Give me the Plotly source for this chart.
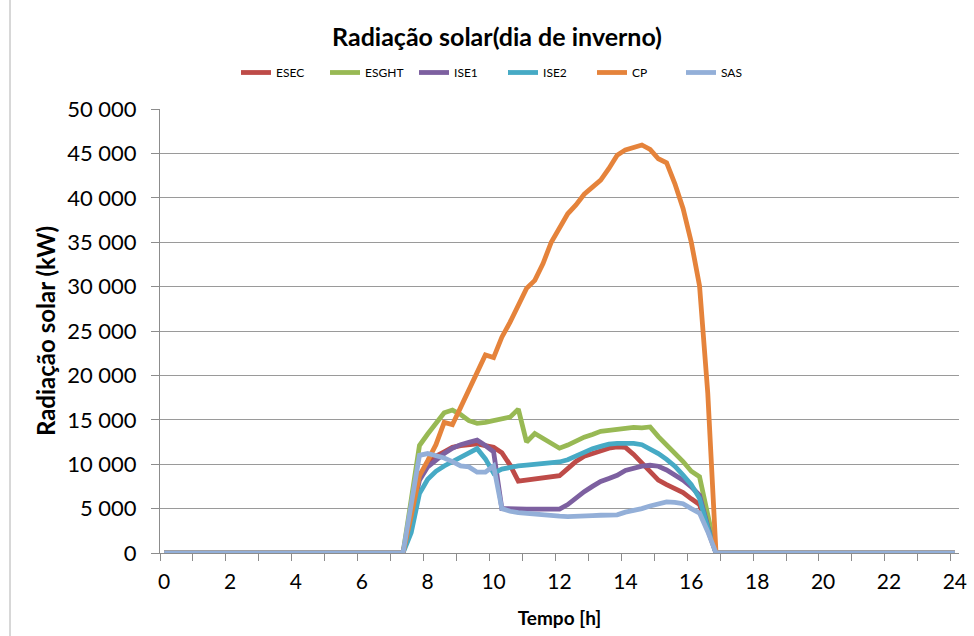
import plotly.graph_objects as go

# Quarter-hour sampling over the daylight window (values are zero outside it)
DAY_HOURS = [7.25, 7.5, 7.75, 8.0, 8.25, 8.5, 8.75, 9.0, 9.25, 9.5,
             9.75, 10.0, 10.25, 10.5, 10.75, 11.0, 11.25, 11.5, 11.75, 12.0,
             12.25, 12.5, 12.75, 13.0, 13.25, 13.5, 13.75, 14.0, 14.25, 14.5,
             14.75, 15.0, 15.25, 15.5, 15.75, 16.0, 16.25, 16.5, 16.75]
NIGHT_START = 0
NIGHT_END = 24

ESEC = [0, 4400, 8800, 9900, 10900, 11400, 11900, 12100, 12200, 12300,
        12100, 11900, 11300, 9900, 8100, 8200, 8300, 8400, 8550, 8700,
        9500, 10300, 10900, 11200, 11500, 11800, 11950, 11900, 11100, 10100,
        9200, 8200, 7700, 7300, 6800, 6100, 5450, 2600, 0]
ESGHT = [0, 6000, 12100, 13400, 14600, 15800, 16100, 15600, 14900, 14600,
         14700, 14900, 15000, 15300, 16200, 12500, 13450, 12900, 12350, 11800,
         12150, 12600, 13050, 13350, 13700, 13800, 13950, 14100, 14150, 14100,
         14200, 13100, 12200, 11300, 10300, 9200, 8600, 4300, 0]
ISE1 = [0, 4000, 8200, 9700, 10500, 11200, 11800, 12200, 12450, 12700,
        12100, 11400, 5000, 4950, 4950, 4950, 4950, 4950, 4950, 4950,
        5450, 6200, 6900, 7500, 8050, 8400, 8750, 9300, 9580, 9770,
        9880, 9770, 9350, 8850, 8200, 7450, 6500, 3000, 0]
ISE2 = [0, 2300, 6700, 8300, 9200, 9800, 10300, 10800, 11200, 11750,
        10600, 9000, 9450, 9650, 9800, 9900, 10000, 10070, 10150, 10250,
        10500, 10900, 11350, 11750, 12000, 12250, 12350, 12380, 12350, 12190,
        11700, 11200, 10550, 9770, 8760, 7700, 6150, 2800, 0]
CP = [0, 4200, 8700, 10400, 12200, 14700, 14450, 16400, 18400, 20400,
      22300, 22000, 24300, 26000, 27900, 29800, 30700, 32600, 35000, 36700,
      38200, 39200, 40400, 41200, 42000, 43300, 44800, 45400, 45700, 45950,
      45450, 44400, 43950, 41600, 38800, 35000, 30100, 18000, 0]
SAS = [0, 5500, 11000, 11200, 11000, 10700, 10300, 9800, 9700, 9100,
       9100, 9800, 5000, 4700, 4550, 4450, 4400, 4300, 4200, 4150,
       4100, 4100, 4150, 4200, 4250, 4250, 4300, 4600, 4750, 5000,
       5300, 5500, 5750, 5700, 5550, 5000, 4500, 2400, 0]

SERIES = [("ESEC", ESEC, "#BE4B48"),
          ("ESGHT", ESGHT, "#98B954"),
          ("ISE1", ISE1, "#7D60A0"),
          ("ISE2", ISE2, "#46AAC5"),
          ("CP", CP, "#E5833B"),
          ("SAS", SAS, "#93AFD8")]

X_TICKS = list(range(0, 25, 2))
Y_TICKS = list(range(0, 50001, 5000))

FONT = "Lato"
GRID = "#9A9A9A"
AXIS = "#8C8C8C"

x_full = [NIGHT_START] + DAY_HOURS + [NIGHT_END]

fig = go.Figure()
for name, vals, color in SERIES:
    fig.add_trace(go.Scatter(
        x=x_full, y=[0] + vals + [0], mode="lines", name=name,
        line=dict(color=color, width=4.8, shape="linear"),
    ))

fig.update_layout(
    width=974, height=636,
    margin=dict(l=160, r=15, t=109, b=83, pad=0, autoexpand=False),
    paper_bgcolor="white", plot_bgcolor="white",
    separators=", ",
    font=dict(family=FONT, color="#000000"),
    title=dict(text="<b>Radiação solar(dia de inverno)</b>",
               font=dict(family=FONT, size=25, color="#000000"),
               xref="paper", x=0.4218, xanchor="center",
               yref="container", y=1 - 37 / 636, yanchor="middle"),
    legend=dict(orientation="h", xref="paper", x=0.4218 + 6 / 799, xanchor="center",
                yref="container", y=1 - 58 / 636, yanchor="top",
                font=dict(family=FONT, size=12, color="#000000"),
                entrywidth=44, entrywidthmode="pixels",
                bgcolor="rgba(0,0,0,0)"),
    showlegend=True,
)

fig.update_xaxes(
    range=[-0.125, 24.125], automargin=False,
    tickmode="array", tickvals=X_TICKS, ticks="", ticklen=0,
    tickfont=dict(family=FONT, size=21, color="#000000"),
    ticklabelstandoff=10,
    showgrid=False, zeroline=False,
    showline=True, linecolor=AXIS, linewidth=1,
    minor=dict(tickmode="array", tickvals=[k - 0.125 for k in range(25)],
               ticks="outside", ticklen=7, tickcolor=AXIS, showgrid=False),
    title=dict(text="<b>Tempo [h]</b>",
               font=dict(family=FONT, size=19, color="#000000"), standoff=19),
)

fig.update_yaxes(
    range=[0, 50000], automargin=False,
    tickmode="array", tickvals=Y_TICKS, tickformat=",d",
    ticks="outside", ticklen=8, tickcolor=AXIS,
    tickfont=dict(family=FONT, size=22, color="#000000"),
    ticklabelstandoff=10,
    showgrid=True, gridcolor=GRID, gridwidth=1,
    zeroline=False,
    showline=True, linecolor=AXIS, linewidth=1,
    title=dict(text="<b>Radiação solar (kW)</b>",
               font=dict(family=FONT, size=24, color="#000000"), standoff=4),
)

# outer chart frame edge on the left
fig.add_shape(type="line", xref="paper", yref="paper",
              x0=(10 - 160) / 799, x1=(10 - 160) / 799, y0=-0.3, y1=1.4,
              line=dict(color="#B0B0B0", width=1))

fig.write_html("out.html")
